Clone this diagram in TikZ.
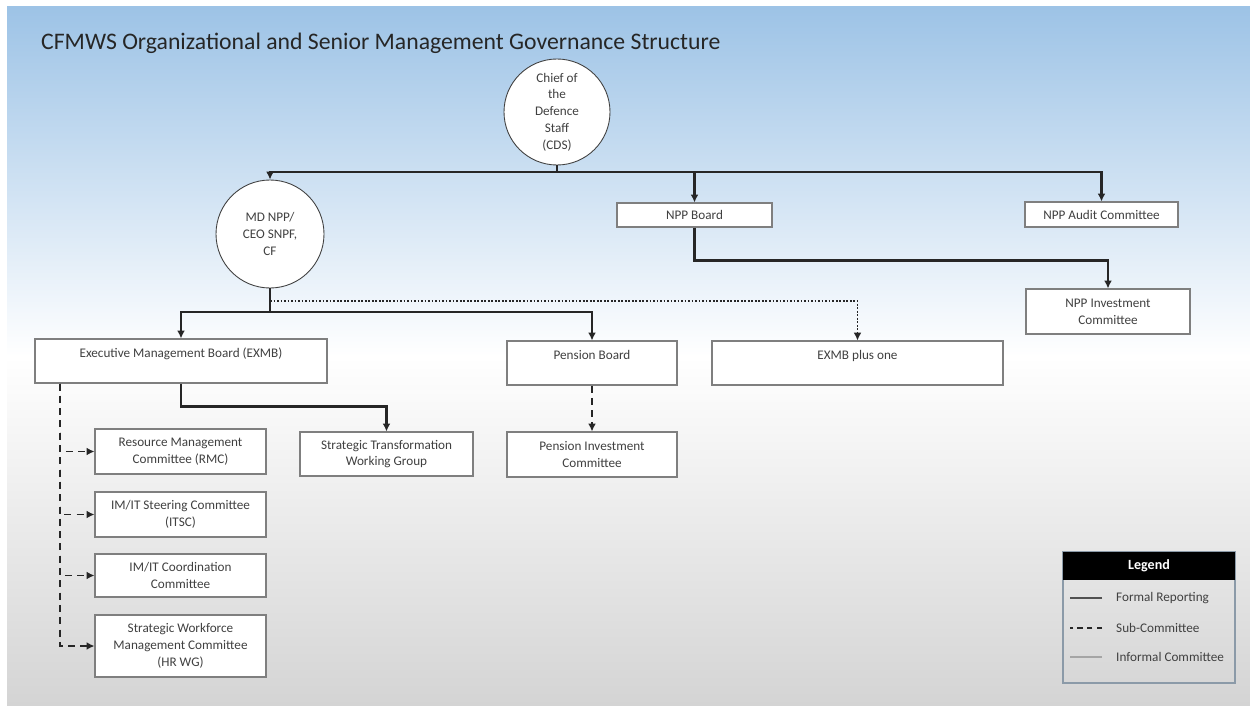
\documentclass[tikz,border=0pt]{standalone}
\usepackage{fontspec}
\setmainfont{Carlito}
\usetikzlibrary{arrows.meta}
\definecolor{slidetop}{HTML}{9DC3E6}
\definecolor{slidebot}{HTML}{D4D4D4}
\definecolor{txt}{HTML}{404040}
\definecolor{edge}{HTML}{7F7F7F}
\definecolor{wire}{HTML}{262626}
\tikzset{
  boxsize/.style 2 args={minimum width=#1*0.02cm, minimum height=#2*0.02cm},
  unit/.style={draw=edge, line width=0.6pt, fill=white, inner sep=0pt, align=center,
    text=txt, font=\fontsize{7.5}{9.5}\selectfont},
  head/.style={unit, circle, draw=txt, line width=0.5pt, minimum size=#1*0.02cm},
  formal/.style={draw=wire, line width=1.2pt, -{Latex[length=4.5pt,width=4.5pt]}},
  sub/.style={draw=wire, line width=1pt, dash pattern=on 4pt off 3pt, -{Latex[length=4.5pt,width=4.5pt]}},
  informal/.style={draw=wire, line width=0.8pt, dash pattern=on 1pt off 1pt, -{Latex[length=4.5pt,width=4.5pt]}},
  legtext/.style={anchor=west, text=txt, font=\fontsize{7.5}{9.5}\selectfont}
}
\begin{document}
\begin{tikzpicture}[x=0.02cm, y=-0.02cm]
\useasboundingbox (0,0) rectangle (1250,706);
\fill[white] (0,0) rectangle (1250,706);
\shade[top color=slidetop, bottom color=slidebot, middle color=white] (7,7) rectangle (1250,706);
\node[anchor=base west, text=wire, font=\fontsize{13.5}{16}\selectfont] (title) at (35,50)
  {CFMWS Organizational and Senior Management Governance Structure};

\node[head=106] (cds) at (557,112) {Chief of\\the\\Defence\\Staff\\(CDS)};
\node[head=108] (md) at (270,234) {MD NPP/\\CEO SNPF,\\CF};
\node[unit, boxsize={155}{24}] (nppb) at (694.5,215) {NPP Board};
\node[unit, boxsize={153}{25}] (audit) at (1101.5,214.5) {NPP Audit Committee};
\node[unit, boxsize={164}{45}] (nppinv) at (1108,311.5) {NPP Investment\\Committee};
\node[unit, boxsize={292}{44}] (exmb) at (181,361) {Executive Management Board (EXMB)\\\mbox{}};
\node[unit, boxsize={170}{44}] (pb) at (592,363) {Pension Board\\\mbox{}};
\node[unit, boxsize={291}{44}] (plus) at (857.5,363) {EXMB plus one\\\mbox{}};
\node[unit, boxsize={170}{45}] (pic) at (592,454.5) {Pension Investment\\Committee};
\node[unit, boxsize={173}{44}] (stwg) at (386.5,454) {Strategic Transformation\\Working Group};
\node[unit, boxsize={171}{45}] (rmc) at (180.5,451.5) {Resource Management\\Committee (RMC)};
\node[unit, boxsize={171}{45}] (itsc) at (180.5,514.5) {IM/IT Steering Committee\\(ITSC)};
\node[unit, boxsize={171}{43}] (imit) at (180.5,575.5) {IM/IT Coordination\\Committee};
\node[unit, boxsize={171}{62}] (swmc) at (180.5,646) {Strategic Workforce\\Management Committee\\(HR WG)};

\draw[formal] (cds.south) -- ++(0,7) -| (md.north);
\draw[formal] (cds.south) -- ++(0,7) -| (nppb.north);
\draw[formal] (cds.south) -- ++(0,7) -| (audit.north);
\draw[formal] (nppb.south) -- ++(0,33) -| (nppinv.north);

\coordinate (mdbus) at (270,312);
\coordinate (mddot) at (270,301);
\draw[formal] (md.south) -- (mdbus) -| (exmb.north);
\draw[formal] (mdbus) -| (pb.north);
\draw[informal] (mddot) -| (plus.north);
\draw[formal] (exmb.south) -- ++(0,23) -| (stwg.north);
\draw[sub] (pb.south) -- (pic.north);

\coordinate (subx) at (60,0);
\foreach \c in {rmc,itsc,imit,swmc}
  \draw[sub] (exmb.south -| subx) |- (\c.west);

\node[draw=edge!60!slidetop, line width=0.6pt, boxsize={172}{131}] (legbox) at (1149,617.5) {};
\node[fill=black, inner sep=0pt, boxsize={172}{28}, text=white, font=\fontsize{8}{10}\selectfont\bfseries] (leghead) at (1149,566) {Legend};
\node[legtext] (legf) at (1110,598) {Formal Reporting};
\node[legtext] (legs) at (1110,628) {Sub-Committee};
\node[legtext] (legi) at (1110,657) {Informal Committee};
\draw[wire!80, line width=1.5pt] (legf.west) ++(-8,0) -- ++(-32,0);
\draw[wire, line width=1.2pt, dash pattern=on 3pt off 2.5pt] (legs.west) ++(-8,0) -- ++(-32,0);
\draw[edge!70, line width=1.5pt] (legi.west) ++(-8,0) -- ++(-32,0);
\end{tikzpicture}
\end{document}
